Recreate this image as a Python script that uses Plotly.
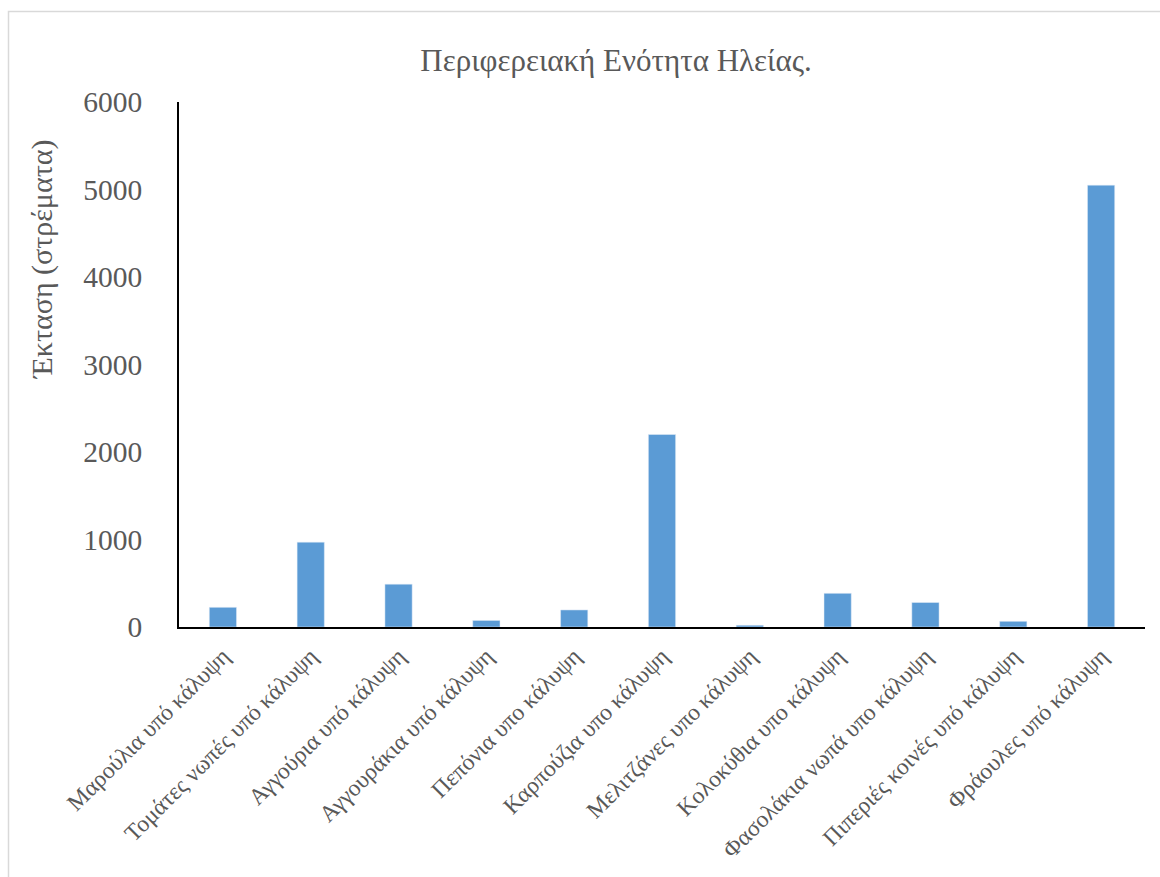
import plotly.graph_objects as go

categories = [
    "Μαρούλια υπό κάλυψη",
    "Τομάτες νωπές υπό κάλυψη",
    "Αγγούρια υπό κάλυψη",
    "Αγγουράκια υπό κάλυψη",
    "Πεπόνια υπο κάλυψη",
    "Καρπούζια υπο κάλυψη",
    "Μελιτζάνες υπο κάλυψη",
    "Κολοκύθια υπο κάλυψη",
    "Φασολάκια νωπά υπο κάλυψη",
    "Πιπεριές κοινές υπό κάλυψη",
    "Φράουλες υπό κάλυψη",
]
values = [225, 970, 490, 75, 195, 2200, 20, 385, 280, 65, 5050]
y_ticks = [0, 1000, 2000, 3000, 4000, 5000, 6000]

W, H = 1160, 877
L, R, T, B = 179, 15, 102, 250
pw, ph = W - L - R, H - T - B

def px(x):
    return (x - L) / pw

def py(y):
    return (H - B - y) / ph

font = "Liberation Serif, Times New Roman, serif"
gray = "#595959"

fig = go.Figure(go.Bar(x=categories, y=values, marker_color="#5b9bd5", width=0.31))

fig.update_layout(
    width=W, height=H,
    margin=dict(l=L, r=R, t=T, b=B),
    paper_bgcolor="white", plot_bgcolor="white",
    font=dict(family=font, color=gray),
    showlegend=False,
    title=dict(text="Περιφερειακή Ενότητα Ηλείας.", x=616 / W, xanchor="center",
               y=1 - 60 / H, yanchor="middle", font=dict(size=31, color=gray, family=font)),
    xaxis=dict(tickangle=-45, tickfont=dict(size=23.5, color=gray, family=font),
               showline=True, linecolor="black", linewidth=2, showgrid=False,
               ticks="", ticklabelstandoff=4, zeroline=False),
    yaxis=dict(range=[0, 6000], tickvals=y_ticks, tickfont=dict(size=29.5, color=gray, family=font),
               showline=True, linecolor="black", linewidth=1.5, showgrid=False,
               ticks="", ticklabelstandoff=29, zeroline=False),
    annotations=[dict(text="Έκταση (στρέματα)", xref="paper", yref="paper",
                      x=px(42), y=py(260), textangle=-90, showarrow=False,
                      xanchor="center", yanchor="middle",
                      font=dict(size=30, color=gray, family=font))],
    shapes=[dict(type="rect", xref="paper", yref="paper",
                 x0=px(8.5), y0=py(900), x1=px(1180), y1=py(11.5),
                 line=dict(color="#d9d9d9", width=1.5), layer="below")],
)

fig.write_html("out.html")
